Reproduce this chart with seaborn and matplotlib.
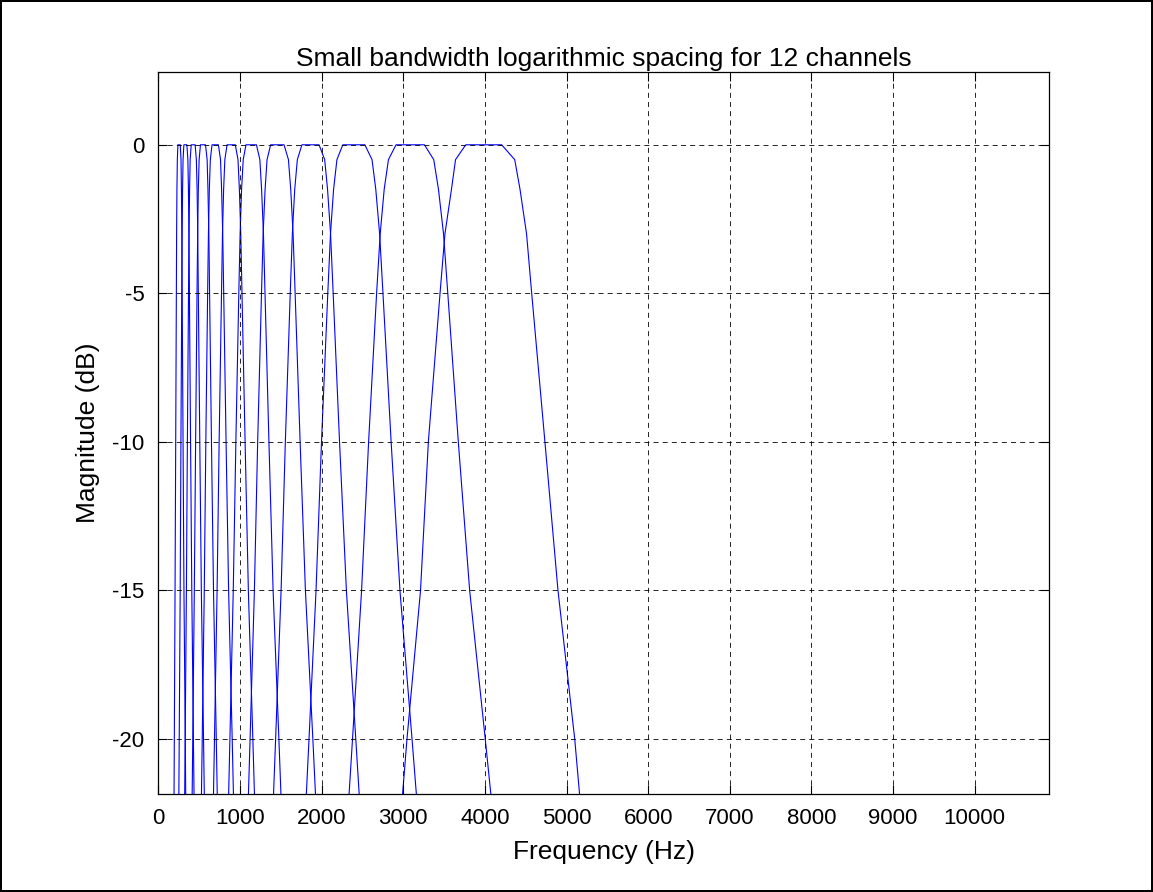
import matplotlib
matplotlib.use("Agg")
import matplotlib.pyplot as plt
import seaborn as sns
import pandas as pd

# Magnitude levels (dB) at which each channel's response was read: left skirt, top, right skirt
levels_db = [-25, -20, -15, -10, -5, -3, -1.5, -0.5, 0, 0, -0.5, -1.5, -3, -5, -10, -15, -20, -25]

# Frequencies (Hz) of each channel at those levels
ch01_hz = [186, 195, 204, 212, 220, 223, 227, 232, 239, 268, 277, 282, 287, 291, 302, 313, 329, 344]
ch02_hz = [243, 255, 267, 276, 286, 291, 296, 302, 312, 349, 361, 368, 374, 380, 394, 409, 429, 449]
ch03_hz = [312, 328, 343, 355, 369, 375, 382, 389, 402, 450, 465, 474, 482, 489, 507, 526, 553, 578]
ch04_hz = [401, 421, 440, 456, 473, 481, 489, 499, 515, 577, 597, 607, 618, 627, 650, 675, 709, 741]
ch05_hz = [511, 537, 562, 581, 603, 613, 624, 636, 657, 735, 761, 774, 788, 800, 829, 860, 904, 945]
ch06_hz = [654, 687, 719, 744, 773, 785, 799, 814, 841, 942, 975, 992, 1009, 1024, 1062, 1102, 1157, 1210]
ch07_hz = [834, 876, 917, 949, 985, 1001, 1019, 1039, 1073, 1201, 1243, 1264, 1287, 1306, 1354, 1405, 1476, 1544]
ch08_hz = [1069, 1123, 1176, 1216, 1263, 1283, 1307, 1331, 1375, 1539, 1593, 1621, 1650, 1675, 1736, 1801, 1892, 1979]
ch09_hz = [1367, 1436, 1503, 1555, 1615, 1641, 1670, 1702, 1758, 1968, 2037, 2072, 2109, 2141, 2219, 2303, 2418, 2530]
ch10_hz = [1757, 1845, 1931, 1998, 2075, 2108, 2146, 2187, 2259, 2529, 2617, 2663, 2710, 2751, 2851, 2959, 3107, 3250]
ch11_hz = [2264, 2378, 2489, 2575, 2673, 2717, 2766, 2818, 2911, 3259, 3373, 3431, 3493, 3545, 3674, 3813, 4004, 4189]
ch12_hz = [2900, 3045, 3211, 3307, 3450, 3510, 3590, 3640, 3765, 4205, 4365, 4430, 4510, 4573, 4735, 4895, 5100, 5260]

channels = [ch01_hz, ch02_hz, ch03_hz, ch04_hz, ch05_hz, ch06_hz,
            ch07_hz, ch08_hz, ch09_hz, ch10_hz, ch11_hz, ch12_hz]

x_ticks = [0, 1000, 2000, 3000, 4000, 5000, 6000, 7000, 8000, 9000, 10000]
y_ticks = [-20, -15, -10, -5, 0]

title_text = "Small bandwidth logarithmic spacing for 12 channels"
x_label = "Frequency (Hz)"
y_label = "Magnitude (dB)"

sns.set_theme(style="white")
plt.rcParams["font.family"] = ["Liberation Sans", "DejaVu Sans"]

W, H = 1153, 892
fig = plt.figure(figsize=(W / 100, H / 100), dpi=100)
fig.patch.set_facecolor("white")
fig.patch.set_edgecolor("black")
fig.patch.set_linewidth(1.5)

ax = fig.add_axes([158.4 / W, 1 - 794 / H, (1049 - 158.4) / W, (794 - 72) / H])

for i, hz in enumerate(channels):
    df = pd.DataFrame({"Frequency (Hz)": hz, "Magnitude (dB)": levels_db})
    sns.lineplot(data=df, x="Frequency (Hz)", y="Magnitude (dB)", sort=False,
                 estimator=None, color=(0, 0, 1), linewidth=0.8, ax=ax)

ax.set_xlim(0, 10910)
ax.set_ylim(-21.85, 2.45)
ax.set_xticks(x_ticks)
ax.set_yticks(y_ticks)
ax.set_xticklabels([str(t) for t in x_ticks])
ax.set_yticklabels([str(t) for t in y_ticks])

ax.grid(True, color="black", linestyle=(0, (6, 5)), linewidth=0.6)
ax.set_axisbelow(False)

for s in ax.spines.values():
    s.set_visible(True)
    s.set_color("black")
    s.set_linewidth(0.9)

ax.tick_params(axis="both", which="major", direction="in", length=6.5, width=0.8,
               color="black", labelsize=16, labelcolor="black",
               top=True, right=True, bottom=True, left=True)
ax.tick_params(axis="x", pad=10)
ax.tick_params(axis="y", pad=10)

ax.set_title(title_text, fontsize=19, color="black", pad=4)
ax.set_xlabel(x_label, fontsize=19, color="black", labelpad=8)
ax.set_ylabel(y_label, fontsize=19, color="black", labelpad=9)

fig.savefig("out.png", dpi=100, facecolor=fig.get_facecolor(), edgecolor=fig.get_edgecolor())
